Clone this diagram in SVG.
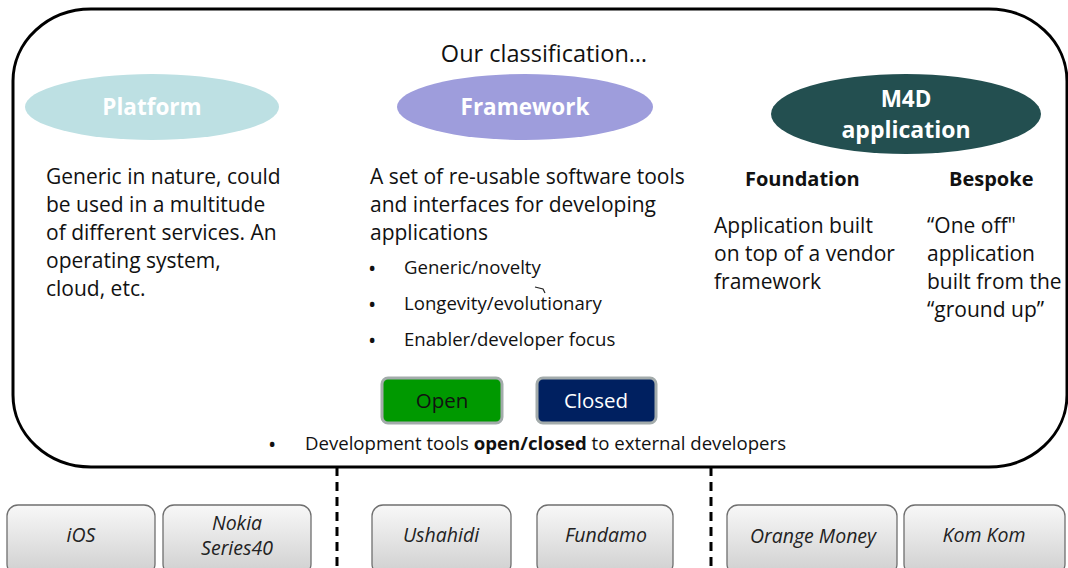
<svg xmlns="http://www.w3.org/2000/svg" width="1068" height="568" viewBox="0 0 1068 568">
<defs>
<linearGradient id="boxg" x1="0" y1="0" x2="0" y2="1">
<stop offset="0" stop-color="#f8f8f8"/>
<stop offset="1" stop-color="#cfcfcf"/>
</linearGradient>
<style>
text{font-family:"Open Sans","Noto Sans","Liberation Sans",sans-serif;fill:#111}
.body{font-size:21px}
.bul{font-size:18.6px}
.dot{font-size:22px}
.ell{font-size:22.5px;font-weight:bold;fill:#fff}
.hd{font-size:20px;font-weight:bold}
.box{fill:url(#boxg);stroke:#6f6f6f;stroke-width:1.3}
.bt{font-size:19.5px;font-style:italic;fill:#222;text-anchor:middle}
.btn{stroke:#a3abab;stroke-width:3}
.dash{stroke:#000;stroke-width:3;stroke-dasharray:9,6;fill:none}
</style>
</defs>
<rect width="1068" height="568" fill="#fff"/>
<g id="frame">
<rect x="13" y="9" width="1054" height="458" rx="78" ry="72" fill="none" stroke="#000" stroke-width="3"/>
<text x="544" y="62" font-size="23.5" text-anchor="middle">Our classification…</text>
</g>
<g id="platform">
<ellipse cx="152" cy="107" rx="127" ry="33" fill="#bde0e3"/>
<text class="ell" x="152" y="115" text-anchor="middle">Platform</text>
<text class="body" x="46" y="184">Generic in nature, could</text>
<text class="body" x="46" y="212">be used in a multitude</text>
<text class="body" x="46" y="240">of different services. An</text>
<text class="body" x="46" y="268">operating system,</text>
<text class="body" x="46" y="296">cloud, etc.</text>
</g>
<g id="framework">
<ellipse cx="525" cy="107" rx="128" ry="33" fill="#9e9ddc"/>
<text class="ell" x="525" y="115" text-anchor="middle">Framework</text>
<text class="body" x="370" y="184">A set of re-usable software tools</text>
<text class="body" x="370" y="212">and interfaces for developing</text>
<text class="body" x="370" y="240">applications</text>
<text class="dot" x="368" y="276">•</text>
<text class="bul" x="404" y="274">Generic/novelty</text>
<text class="dot" x="368" y="312">•</text>
<text class="bul" x="404" y="310">Longevity/evolutionary</text>
<text class="dot" x="368" y="348">•</text>
<text class="bul" x="404" y="346">Enabler/developer focus</text>
<path d="M535,287 L543,289 L545,293" fill="none" stroke="#222" stroke-width="1.2"/>
</g>
<g id="m4d">
<ellipse cx="906" cy="114" rx="135" ry="40" fill="#234f50"/>
<text class="ell" x="906" y="107" text-anchor="middle" font-size="23">M4D</text>
<text class="ell" x="906" y="138" text-anchor="middle" style="font-size:23px">application</text>
<text class="hd" x="745" y="186">Foundation</text>
<text class="hd" x="949" y="186">Bespoke</text>
<text class="body" x="714" y="233">Application built</text>
<text class="body" x="714" y="261">on top of a vendor</text>
<text class="body" x="714" y="289">framework</text>
<text class="body" x="927" y="233">“One off"</text>
<text class="body" x="927" y="261">application</text>
<text class="body" x="927" y="289">built from the</text>
<text class="body" x="927" y="317">“ground up”</text>
</g>
<g id="open">
<rect class="btn" x="382" y="378" width="120" height="45" rx="6" fill="#009900"/>
<text x="442" y="408" font-size="20.5" text-anchor="middle">Open</text>
</g>
<g id="closed">
<rect class="btn" x="537" y="378" width="119" height="45" rx="6" fill="#002060"/>
<text x="596" y="408" font-size="20.5" text-anchor="middle" style="fill:#fff">Closed</text>
</g>
<g id="devtools">
<text class="dot" x="268" y="452">•</text>
<text class="bul" x="305" y="450">Development tools <tspan font-weight="bold">open/closed</tspan> to external developers</text>
</g>
<g id="connectors">
<line class="dash" x1="337" y1="467" x2="337" y2="568"/>
<line class="dash" x1="711" y1="467" x2="711" y2="568"/>
</g>
<g id="ios"><rect class="box" x="7" y="505" width="148" height="70" rx="11"/><text class="bt" x="81" y="542">iOS</text></g>
<g id="nokia"><rect class="box" x="163" y="505" width="148" height="70" rx="11"/><text class="bt" x="237" y="530">Nokia</text><text class="bt" x="237" y="555">Series40</text></g>
<g id="ushahidi"><rect class="box" x="372" y="505" width="139" height="70" rx="11"/><text class="bt" x="441" y="542">Ushahidi</text></g>
<g id="fundamo"><rect class="box" x="537" y="505" width="136" height="70" rx="11"/><text class="bt" x="606" y="542">Fundamo</text></g>
<g id="orange"><rect class="box" x="727" y="505" width="170" height="70" rx="11"/><text class="bt" x="813" y="543">Orange Money</text></g>
<g id="komkom"><rect class="box" x="904" y="505" width="161" height="70" rx="11"/><text class="bt" x="984" y="542">Kom Kom</text></g>
</svg>
